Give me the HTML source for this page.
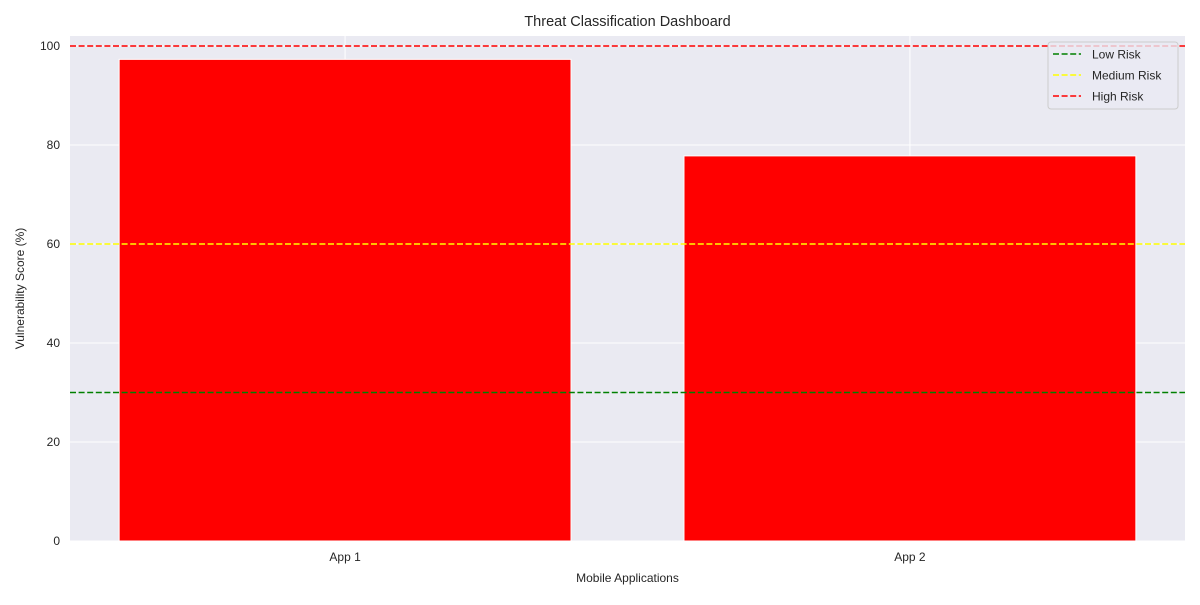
<!DOCTYPE html>
<html><head><meta charset="utf-8"><style>
body{margin:0;background:#fff;font-family:"Liberation Sans",sans-serif}
svg text{font-family:"Liberation Sans",sans-serif;fill:#262626}
</style></head><body>
<svg id="chart" width="1200" height="600"></svg>
<script>
const categories=["App 1","App 2"];
const scores=[97.3,77.8];
const yTicks=[0,20,40,60,80,100];
const thresholdNames=["Low Risk","Medium Risk","High Risk"];
const thresholdValues=[30,60,100];
const thresholdColors=["green","yellow","red"];

const svg=document.getElementById('chart');
const NS='http://www.w3.org/2000/svg';
function mk(t,a,p){const e=document.createElementNS(NS,t);for(const k in a)e.setAttribute(k,a[k]);(p||svg).appendChild(e);return e;}
const L=70,R=1185,T=36,B=541;
const yMin=0,yMax=102.02;
const xMin=-0.487,xMax=1.487;
const y=v=>B-(v-yMin)/(yMax-yMin)*(B-T);
const x=v=>L+(v-xMin)/(xMax-xMin)*(R-L);

let bg=mk('rect',{x:L,y:T,width:R-L,height:B-T,fill:'#eaeaf2'});


yTicks.forEach(v=>{
  let g=mk('line',{x1:L,x2:R,y1:y(v),y2:y(v),stroke:'#fff','stroke-width':1});
  
  
  let t=mk('text',{x:L-10,y:y(v)+4,'text-anchor':'end','font-size':12});
  t.textContent=v;
  
  
});
categories.forEach((c,i)=>{
  let g=mk('line',{x1:x(i),x2:x(i),y1:T,y2:B,stroke:'#fff','stroke-width':1});
  
  
});
categories.forEach((c,i)=>{
  const w=x(0.4)-x(0);
  let r=mk('rect',{x:x(i)-w,y:y(scores[i]),width:2*w,height:y(0)-y(scores[i]),fill:'red',stroke:'#fff','stroke-width':1});
  
  
  let t=mk('text',{x:x(i),y:B+20,'text-anchor':'middle','font-size':12});
  t.textContent=c;
  
  
});
thresholdValues.forEach((v,i)=>{
  let l=mk('line',{x1:L,x2:R,y1:y(v),y2:y(v),stroke:thresholdColors[i],'stroke-width':1.6,'stroke-dasharray':'6,2.6'});
  
  
});
let lg=mk('g',{});


mk('rect',{x:1048,y:42,width:130,height:67,rx:3,fill:'#eaeaf2','fill-opacity':0.8,stroke:'#ccc'},lg);
thresholdNames.forEach((n,i)=>{
  const yy=54+i*21;
  let l=mk('line',{x1:1053,x2:1081,y1:yy,y2:yy,stroke:thresholdColors[i],'stroke-width':1.6,'stroke-dasharray':'6,2.6'},lg);
  
  
  let t=mk('text',{x:1092,y:yy+4.5,'font-size':12},lg);
  t.textContent=n;
  
  
});
let ti=mk('text',{x:(L+R)/2,y:26,'text-anchor':'middle','font-size':14.5});
ti.textContent='Threat Classification Dashboard';


let xt=mk('text',{x:(L+R)/2,y:582,'text-anchor':'middle','font-size':12});
xt.textContent='Mobile Applications';


let yt=mk('text',{x:24,y:(T+B)/2,'text-anchor':'middle','font-size':12,transform:'rotate(-90 24 '+(T+B)/2+')'});
yt.textContent='Vulnerability Score (%)';


</script>
</body></html>
